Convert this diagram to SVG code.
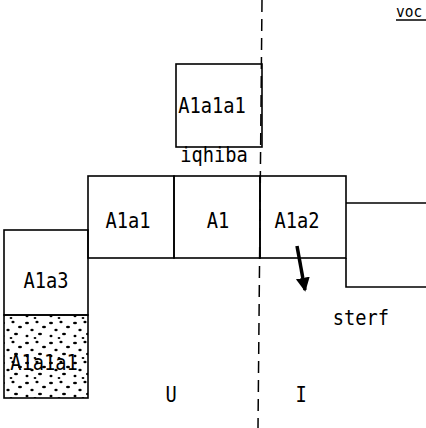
<svg xmlns="http://www.w3.org/2000/svg" width="426" height="428" viewBox="0 0 426 428">
<style>
.box{fill:none;stroke:#000;stroke-width:1.6}
.ln{fill:none;stroke:#000;stroke-width:1.6}
.t{font-family:"DejaVu Sans Mono","Liberation Mono",monospace;font-size:22px;fill:#000;text-anchor:middle}
.dash{fill:none;stroke:#000;stroke-width:1.5;stroke-dasharray:12 7}
</style>
<defs>
<pattern id="dots" width="24" height="20" patternUnits="userSpaceOnUse">
<ellipse cx="3" cy="3" rx="2" ry="1.3"/>
<ellipse cx="13" cy="2" rx="1.6" ry="1.2"/>
<ellipse cx="20" cy="7" rx="2" ry="1.2"/>
<ellipse cx="8" cy="10" rx="1.7" ry="1.3"/>
<ellipse cx="16" cy="14" rx="2" ry="1.2"/>
<ellipse cx="3" cy="16" rx="1.5" ry="1.2"/>
<ellipse cx="11" cy="18" rx="1.4" ry="1"/>
</pattern>
<marker id="ah" markerWidth="4" markerHeight="5" refX="3.5" refY="2" orient="auto" markerUnits="strokeWidth">
<path d="M0,0 L4,2 L0,4 Z" fill="#000"/>
</marker>
</defs>
<g id="connectors">
<path class="dash" d="M262,0 L258,428"/>
<path d="M297,246 L305,290" stroke="#000" stroke-width="3.5" fill="none" marker-end="url(#ah)"/>
</g>
<g id="node-top">
<rect class="box" x="176" y="64" width="86" height="83"/>
<text class="t" transform="translate(212,113) scale(0.85,1)">A1a1a1</text>
<text class="t" transform="translate(214,162) scale(0.85,1)">iqhiba</text>
</g>
<g id="node-a1a1">
<rect class="box" x="88" y="176" width="86" height="82"/>
<text class="t" transform="translate(128,228) scale(0.85,1)">A1a1</text>
</g>
<g id="node-a1">
<rect class="box" x="174" y="176" width="86" height="82"/>
<text class="t" transform="translate(218,228) scale(0.85,1)">A1</text>
</g>
<g id="node-a1a2">
<rect class="box" x="260" y="176" width="86" height="82"/>
<text class="t" transform="translate(297,228) scale(0.85,1)">A1a2</text>
</g>
<g id="node-right">
<path class="ln" d="M346,203 L426,203 M346,258 L346,287 L426,287"/>
</g>
<g id="node-a1a3">
<rect class="box" x="4" y="230" width="84" height="85"/>
<text class="t" transform="translate(46,288) scale(0.85,1)">A1a3</text>
</g>
<g id="node-dotted">
<rect x="4" y="315" width="84" height="83" fill="url(#dots)" stroke="#000" stroke-width="1.6"/>
<text class="t" transform="translate(44,370) scale(0.85,1)">A1a1a1</text>
</g>
<g id="labels">
<text class="t" transform="translate(361,325) scale(0.85,1)">sterf</text>
<text class="t" transform="translate(171,402) scale(0.85,1)">U</text>
<text class="t" transform="translate(301,402) scale(0.85,1)">I</text>
<text class="t" transform="translate(396,17) scale(0.66,0.72)" style="text-anchor:start">voc</text>
<line x1="396" y1="20" x2="426" y2="20" stroke="#000" stroke-width="1.5"/>
</g>
</svg>
